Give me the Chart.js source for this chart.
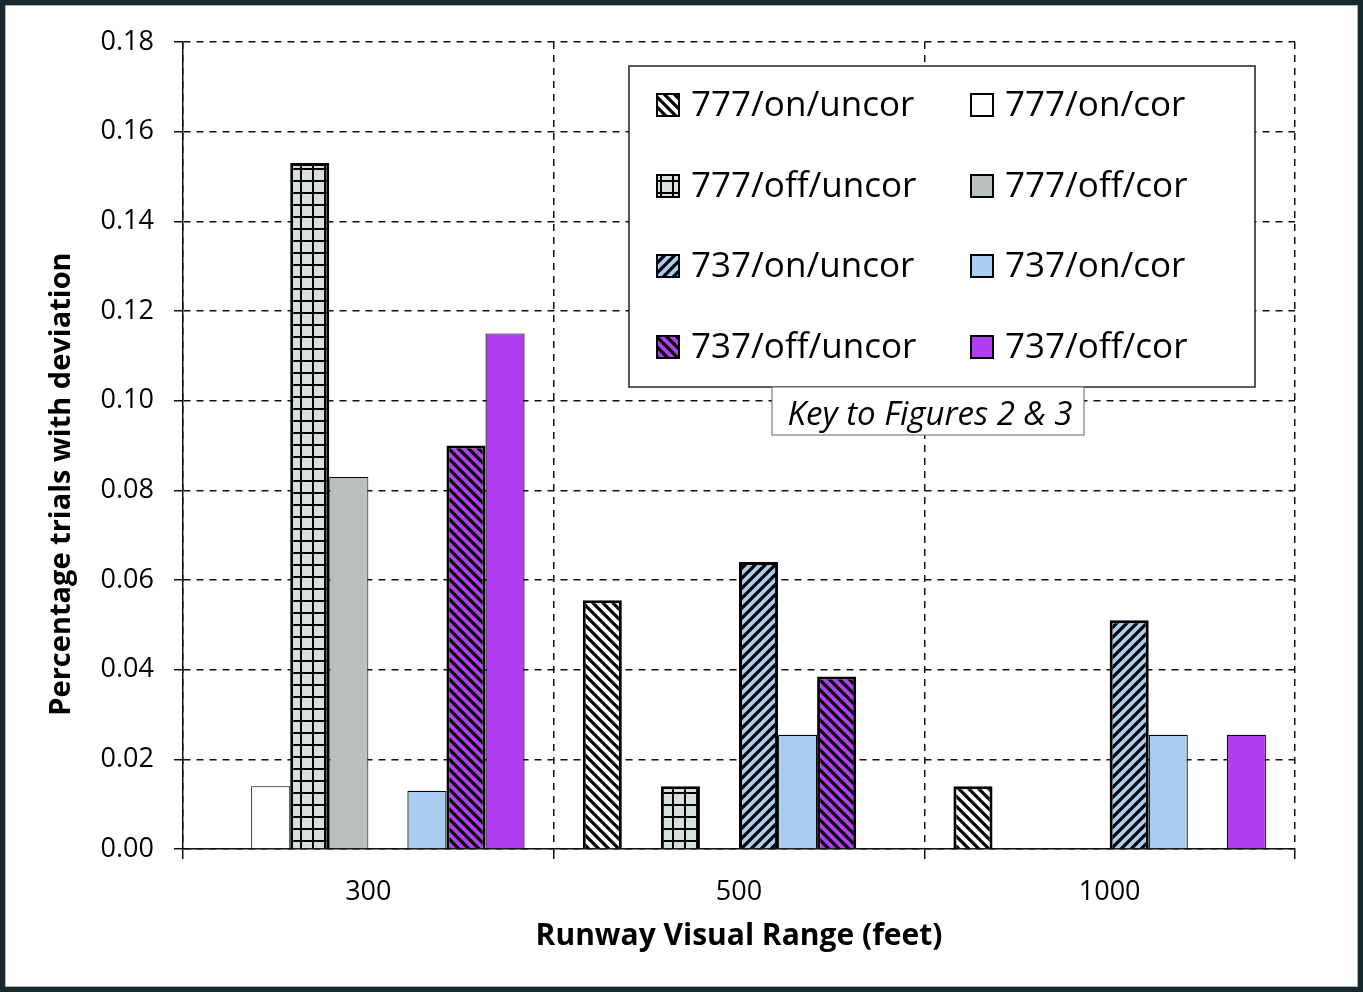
<!DOCTYPE html>
<html>
<head>
<meta charset="utf-8">
<script src="https://cdn.jsdelivr.net/npm/chart.js@4"></script>
<style>
  html, body { margin: 0; padding: 0; background: #fff; }
  #wrap { position: relative; width: 1363px; height: 992px; }
  #frame {
    position: absolute; left: 0; top: 0; width: 1363px; height: 992px;
    box-sizing: border-box; border: 5px solid #17292c;
    box-shadow: inset 0 0 0 1px #a9b4b4; pointer-events: none;
  }
</style>
</head>
<body>
<div id="wrap">
  <canvas id="rvrChart" width="1363" height="992"></canvas>
  <div id="frame"></div>
</div>
<script>
const categories = ['300', '500', '1000'];
const yTicks = [0, 0.02, 0.04, 0.06, 0.08, 0.10, 0.12, 0.14, 0.16, 0.18];
const yTitle = 'Percentage trials with deviation';
const xTitle = 'Runway Visual Range (feet)';
const keyCaption = 'Key to Figures 2 & 3';

const seriesNames = [
  '777/on/uncor', '777/on/cor', '777/off/uncor', '777/off/cor',
  '737/on/uncor', '737/on/cor', '737/off/uncor', '737/off/cor'
];
const b777OnUncor  = [0,     0.0555, 0.014];
const b777OnCor    = [0.014, 0,      0];
const b777OffUncor = [0.153, 0.014,  0];
const b777OffCor   = [0.083, 0,      0];
const b737OnUncor  = [0,     0.064,  0.051];
const b737OnCor    = [0.013, 0.0255, 0.0255];
const b737OffUncor = [0.090, 0.0385, 0];
const b737OffCor   = [0.115, 0,      0.0255];

const FONT = "'Open Sans', 'Noto Sans', sans-serif";
const WHITE = '#ffffff';
const GRAY = '#b9bfbd';
const GRID_BG = '#d7e0dc';
const LIGHT_BLUE = '#a8cdf1';
const PURPLE = '#b23ef2';

function stripePattern(bg, dir) {
  const s = 10;
  const c = document.createElement('canvas');
  c.width = s; c.height = s;
  const g = c.getContext('2d');
  g.fillStyle = bg;
  g.fillRect(0, 0, s, s);
  g.strokeStyle = '#000';
  g.lineWidth = 3.2;
  g.beginPath();
  if (dir === 'back') {
    g.moveTo(-2, -2); g.lineTo(s + 2, s + 2);
    g.moveTo(-2, s - 2); g.lineTo(2, s + 2);
    g.moveTo(s - 2, -2); g.lineTo(s + 2, 2);
  } else {
    g.moveTo(-2, s + 2); g.lineTo(s + 2, -2);
    g.moveTo(-2, 2); g.lineTo(2, -2);
    g.moveTo(s - 2, s + 2); g.lineTo(s + 2, s - 2);
  }
  g.stroke();
  return g.createPattern(c, 'repeat');
}

function gridPattern(bg) {
  const s = 12;
  const c = document.createElement('canvas');
  c.width = s; c.height = s;
  const g = c.getContext('2d');
  g.fillStyle = bg;
  g.fillRect(0, 0, s, s);
  g.fillStyle = '#000';
  g.fillRect(0, 0, s, 2);
  g.fillRect(0, 0, 2, s);
  return g.createPattern(c, 'repeat');
}

const fills = [
  stripePattern(WHITE, 'back'),
  WHITE,
  gridPattern(GRID_BG),
  GRAY,
  stripePattern(LIGHT_BLUE, 'fwd'),
  LIGHT_BLUE,
  stripePattern(PURPLE, 'back'),
  PURPLE
];
const borders = [3, 1, 3, 1, 3, 1.2, 3, 1.2];
const seriesData = [b777OnUncor, b777OnCor, b777OffUncor, b777OffCor,
                    b737OnUncor, b737OnCor, b737OffUncor, b737OffCor];

const datasets = seriesNames.map(function(name, i) {
  return {
    label: name,
    data: seriesData[i],
    backgroundColor: fills[i],
    borderColor: '#000',
    borderWidth: borders[i],
    borderSkipped: 'start',
    barPercentage: 1,
    categoryPercentage: 0.843
  };
});

// legend box, caption and the (off-centre) y title
const keyPlugin = {
  id: 'keyBox',
  afterDatasetsDraw(chart) {
    const ctx = chart.ctx;
    ctx.save();
    ctx.fillStyle = '#fff';
    ctx.fillRect(629, 66, 626, 321);
    ctx.strokeStyle = '#222';
    ctx.lineWidth = 1.5;
    ctx.strokeRect(629, 66, 626, 321);

    const colX = [657, 971];
    const rowY = [105, 186, 266, 347];
    ctx.font = '35px ' + FONT;
    ctx.textBaseline = 'middle';
    ctx.textAlign = 'left';
    chart.data.datasets.forEach(function(ds, i) {
      const col = i % 2;
      const row = Math.floor(i / 2);
      const x = colX[col], y = rowY[row];
      ctx.fillStyle = ds.backgroundColor;
      ctx.fillRect(x, y - 11, 22, 22);
      ctx.strokeStyle = '#000';
      ctx.lineWidth = 2;
      ctx.strokeRect(x, y - 11, 22, 22);
      ctx.fillStyle = '#000';
      ctx.fillText(ds.label, x + 34, y + 1);
    });

    ctx.fillStyle = '#fff';
    ctx.fillRect(772, 387, 312, 48);
    ctx.strokeStyle = '#6f8080';
    ctx.lineWidth = 1.2;
    ctx.strokeRect(772, 387, 312, 48);
    ctx.fillStyle = '#000';
    ctx.font = 'italic 33px ' + FONT;
    ctx.textAlign = 'center';
    ctx.fillText(keyCaption, 930, 416);

    ctx.translate(62, 484);
    ctx.rotate(-Math.PI / 2);
    ctx.font = 'bold 29px ' + FONT;
    ctx.fillText(yTitle, 0, 0);
    ctx.restore();
  }
};

const ctx = document.getElementById('rvrChart').getContext('2d');
new Chart(ctx, {
  type: 'bar',
  data: { labels: categories, datasets: datasets },
  plugins: [keyPlugin],
  options: {
    responsive: false,
    animation: false,
    layout: { padding: { left: 30, top: 42, right: 68, bottom: 20 } },
    plugins: { legend: { display: false }, tooltip: { enabled: false } },
    scales: {
      x: {
        grid: {
          color: '#111', lineWidth: 1.5, offset: true,
          tickLength: 10, tickColor: '#111', tickWidth: 1.5
        },
        border: { display: true, color: '#111', width: 1.5, dash: [7, 6] },
        ticks: { color: '#000', padding: 17, font: { family: FONT, size: 27 } },
        title: {
          display: true, text: xTitle, color: '#000',
          padding: { top: 0, bottom: 18 },
          font: { family: FONT, size: 30, weight: 'bold' }
        },
        afterFit: function(scale) { scale.height = 123; }
      },
      y: {
        min: 0, max: 0.18,
        afterBuildTicks: function(scale) {
          scale.ticks = yTicks.map(function(v) { return { value: v }; });
        },
        grid: {
          color: '#111', lineWidth: 1.5,
          tickLength: 9, tickColor: '#111', tickWidth: 1.5
        },
        border: { display: true, color: '#111', width: 1.5, dash: [7, 6] },
        ticks: {
          color: '#000', padding: 20, font: { family: FONT, size: 27 },
          callback: function(v) { return Number(v).toFixed(2); }
        },
        title: { display: false },
        afterFit: function(scale) { scale.width = 153; }
      }
    }
  }
});
</script>
</body>
</html>
